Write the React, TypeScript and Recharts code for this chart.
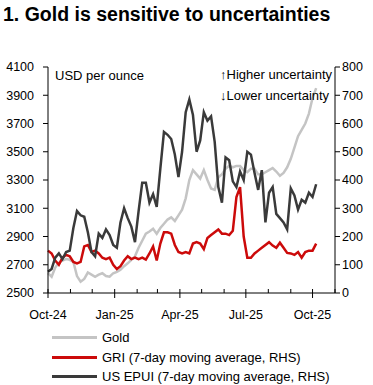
import React from "react";
import { LineChart, Line, XAxis, YAxis } from "recharts";

// 5-day samples from 1 Oct 2024
const startDate = Date.UTC(2024, 9, 1);
const stepDays = 5;

const gold = [
  2640, 2615, 2680, 2715, 2730, 2740, 2735, 2720, 2620, 2580,
  2600, 2645, 2630, 2615, 2630, 2640, 2620, 2615, 2640, 2650,
  2665, 2690, 2710, 2735, 2760, 2820, 2870, 2920, 2935, 2955,
  2920, 2960, 2990, 3020, 3035, 3010, 3050, 3090, 3170, 3300,
  3370, 3340, 3310, 3370, 3300, 3240, 3230, 3320, 3340, 3380,
  3400, 3390, 3400, 3400, 3370, 3355, 3380, 3380, 3340, 3340,
  3355, 3370, 3385, 3360, 3330, 3350, 3390, 3450, 3530, 3610,
  3655, 3700, 3770, 3880, 3950,
];

const gri = [
  150, 140, 115, 100, 125, 135, 130, 110, 105, 110,
  165, 170, 145, 150, 140, 125, 120, 125, 100, 85,
  95, 115, 130, 120, 125, 120, 125, 118, 140, 165,
  115, 175, 215, 215, 210, 170, 145, 140, 145, 140,
  175, 180, 175, 155, 195, 205, 215, 225, 210, 210,
  205, 220, 340, 375, 200, 125, 125, 140, 150, 160,
  170, 180, 168, 160, 178, 160, 142, 140, 135, 145,
  125, 145, 150, 150, 175,
];

const epui = [
  75, 85, 125, 140, 120, 145, 150, 230, 290, 275,
  270, 215, 145, 130, 210, 195, 225, 205, 170, 160,
  250, 300, 265, 235, 180, 290, 390, 390, 320, 350,
  305, 440, 570, 560, 545, 490, 410, 500, 640, 685,
  630, 500, 540, 640, 610, 625, 535, 375, 320, 480,
  470, 395, 375, 430, 400, 500, 490, 425, 365, 435,
  250, 355, 375, 280, 265, 250, 225, 370, 345, 295,
  330, 320, 355, 340, 385,
];

const monthTicks = [
  [2024, 9], [2024, 10], [2024, 11], [2025, 0], [2025, 1], [2025, 2], [2025, 3],
  [2025, 4], [2025, 5], [2025, 6], [2025, 7], [2025, 8], [2025, 9], [2025, 10],
].map(([y, m]) => Date.UTC(y, m, 1));

const majorLabels: Record<number, string> = {
  [Date.UTC(2024, 9, 1)]: "Oct-24",
  [Date.UTC(2025, 0, 1)]: "Jan-25",
  [Date.UTC(2025, 3, 1)]: "Apr-25",
  [Date.UTC(2025, 6, 1)]: "Jul-25",
  [Date.UTC(2025, 9, 1)]: "Oct-25",
};

const leftTicks = [2500, 2700, 2900, 3100, 3300, 3500, 3700, 3900, 4100];
const rightTicks = [0, 100, 200, 300, 400, 500, 600, 700, 800];

const data = gold.map((g, i) => ({
  t: startDate + i * stepDays * 86400000,
  gold: g,
  gri: gri[i],
  epui: epui[i],
}));

const FONT = "Arial, 'Liberation Sans', sans-serif";
const GOLD = "#c4c4c4";
const RED = "#cc0a0a";
const DARK = "#3a3a3a";

function MonthTick(props: any) {
  const { x, y, payload } = props;
  const label = majorLabels[payload.value];
  return (
    <g>
      {label ? (
        <>
          <line x1={x} x2={x} y1={y - 4} y2={y + 5} stroke="#000" strokeWidth={1} />
          <text x={x} y={y + 26} textAnchor="middle" fontSize={12.5} fontFamily={FONT} fill="#000">
            {label}
          </text>
        </>
      ) : (
        <line x1={x} x2={x} y1={y - 4} y2={y} stroke="#000" strokeWidth={1} />
      )}
    </g>
  );
}

const legendItems = [
  { name: "Gold", color: GOLD },
  { name: "GRI (7-day moving average, RHS)", color: RED },
  { name: "US EPUI (7-day moving average, RHS)", color: DARK },
];

export default function App() {
  return (
    <div style={{ position: "absolute", left: 0, top: 0, width: 373, height: 385, background: "#fff", fontFamily: FONT }}>
      <div style={{ position: "absolute", left: 3, top: 3, fontSize: 19.5, fontWeight: "bold", color: "#000", whiteSpace: "nowrap" }}>
        1. Gold is sensitive to uncertainties
      </div>
      <div style={{ position: "absolute", left: 0, top: 0 }}>
        <LineChart width={373} height={323} data={data} margin={{ top: 67, right: 0, bottom: 0, left: 0 }}>
          <XAxis
            dataKey="t"
            type="number"
            domain={[Date.UTC(2024, 9, 1), Date.UTC(2025, 10, 1)]}
            ticks={monthTicks}
            interval={0}
            tick={<MonthTick />}
            tickLine={false}
            tickSize={0}
            tickMargin={0}
            height={30}
            axisLine={{ stroke: "#000" }}
          />
          <YAxis
            yAxisId="left"
            domain={[2500, 4100]}
            ticks={leftTicks}
            interval={0}
            width={48}
            tickSize={5}
            tickMargin={9}
            axisLine={{ stroke: "#000" }}
            tickLine={{ stroke: "#000" }}
            tick={{ fontSize: 12.5, fill: "#000", fontFamily: FONT }}
          />
          <YAxis
            yAxisId="right"
            orientation="right"
            domain={[0, 800]}
            ticks={rightTicks}
            interval={0}
            width={38}
            tickSize={5}
            tickMargin={2}
            axisLine={{ stroke: "#000" }}
            tickLine={{ stroke: "#000" }}
            tick={{ fontSize: 12.5, fill: "#000", fontFamily: FONT, textAnchor: "start" }}
          />
          <Line yAxisId="left" dataKey="gold" stroke={GOLD} strokeWidth={2.5} dot={false} isAnimationActive={false} />
          <Line yAxisId="right" dataKey="gri" stroke={RED} strokeWidth={2.5} dot={false} isAnimationActive={false} />
          <Line yAxisId="right" dataKey="epui" stroke={DARK} strokeWidth={2.5} dot={false} isAnimationActive={false} />
        </LineChart>
      </div>
      <div style={{ position: "absolute", left: 55, top: 68, fontSize: 13, color: "#000" }}>USD per ounce</div>
      <div style={{ position: "absolute", right: 41, top: 64, fontSize: 13, color: "#000", textAlign: "left", lineHeight: "21px" }}>
        <div>↑Higher uncertainty</div>
        <div>↓Lower uncertainty</div>
      </div>
      <div style={{ position: "absolute", left: 52, top: 328 }}>
        {legendItems.map((it) => (
          <div key={it.name} style={{ display: "flex", alignItems: "center", height: 19.5 }}>
            <div style={{ width: 45, height: 3, background: it.color, marginRight: 5 }} />
            <span style={{ fontSize: 13, color: "#000", whiteSpace: "nowrap" }}>{it.name}</span>
          </div>
        ))}
      </div>
    </div>
  );
}
